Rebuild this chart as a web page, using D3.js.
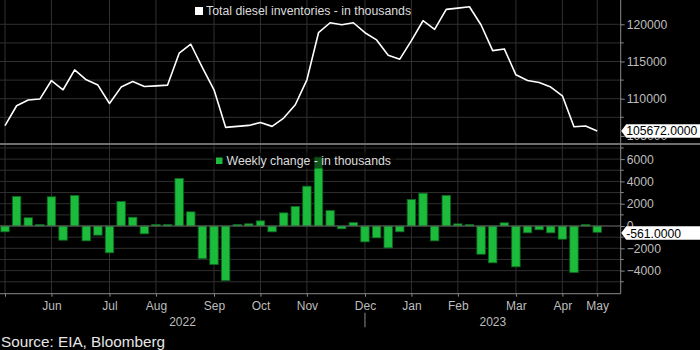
<!DOCTYPE html>
<html>
<head>
<meta charset="utf-8">
<script src="https://cdn.jsdelivr.net/npm/d3@7"></script>
<style>
  html, body { margin: 0; padding: 0; background: #000; }
  svg { display: block; }
  text { font-family: "Liberation Sans", Arial, sans-serif; }
</style>
</head>
<body>
<svg id="chart" width="700" height="350"></svg>
<script>
// ---- data (weekly, oldest first) ----
const inventory = [
  106370, 109050, 109820, 109950, 112440, 111200, 113880, 112540, 111830, 109360,
  111560, 112310, 111640, 111730, 111830, 116110, 117320, 114190, 111200, 106150,
  106280, 106410, 106810, 106280, 107400, 109190, 112540, 118870, 120210, 119950,
  120210, 118870, 117900, 115850, 115310, 117800, 120480, 119330, 122010, 122180,
  122360, 119910, 116460, 116690, 113210, 112440, 112170, 111560, 110390, 106240,
  106330, 105672
];
const weeklyChange = [
  -520, 2650, 740, 135, 2620, -1270, 2740, -1330, -820, -2400,
  2200, 790, -700, 135, 135, 4260, 1270, -2920, -3450, -4890,
  135, 200, 465, -520, 1180, 1750, 3570, 6180, 1390, -250,
  310, -1420, -1060, -1960, -520, 2380, 2940, -1330, 2740, 195,
  135, -2530, -3300, 290, -3660, -610, -340, -610, -1180, -4170,
  135, -561
];
const monthLabels    = ["", "Jun", "Jul", "Aug", "Sep", "Oct", "Nov", "Dec", "Jan", "Feb", "Mar", "Apr", "May"];
const monthTickWeeks = [0, 4, 9, 13, 18, 22, 26, 31, 35, 39, 44, 48, 51];
const yearLabels     = ["2022", "2023"];
const yearBreakWeek  = 31;
const invTicks       = [105000, 110000, 115000, 120000];
const invGrid        = [107500, 110000, 112500, 115000, 117500, 120000];
const chgTicks       = [-4000, -2000, 0, 2000, 4000, 6000];
const chgGrid        = [-5000, -4000, -3000, -2000, -1000, 0, 1000, 2000, 3000, 4000, 5000, 6000, 7000];
const invLegend      = "Total diesel inventories - in thousands";
const chgLegend      = "Weekly change - in thousands";
const sourceText     = "Source: EIA, Bloomberg";

// ---- layout ----
const svg = d3.select("#chart");
const plotRight = 620.7;
const axisY = 293.7;

const x = d3.scaleLinear().domain([0, inventory.length - 1]).range([5, 597.2]);
const yTop = d3.scaleLinear().domain([104046, 123266]).range([143, 0]);
const yBot = d3.scaleLinear().domain([-6070, 7265]).range([axisY, 145]);

const gridCol = "#303030";
const axisCol = "#8a8a8a";
const labelCol = "#bdbdbd";

svg.append("rect").attr("width", 700).attr("height", 350).attr("fill", "#000");

// grid
const grid = svg.append("g");
grid.selectAll(".vg").data(monthTickWeeks).join("line")
  .attr("x1", d => x(d)).attr("x2", d => x(d))
  .attr("y1", 0).attr("y2", axisY)
  .attr("stroke", gridCol).attr("stroke-width", 1);
grid.selectAll(".hgT").data(invGrid).join("line")
  .attr("x1", 0).attr("x2", plotRight)
  .attr("y1", d => yTop(d)).attr("y2", d => yTop(d))
  .attr("stroke", gridCol).attr("stroke-width", 1);
grid.selectAll(".hgB").data(chgGrid).join("line")
  .attr("x1", 0).attr("x2", plotRight)
  .attr("y1", d => yBot(d)).attr("y2", d => yBot(d))
  .attr("stroke", gridCol).attr("stroke-width", 1);

// panel separator
svg.append("line").attr("x1", 0).attr("x2", 700).attr("y1", 144).attr("y2", 144)
  .attr("stroke", "#6e6e6e").attr("stroke-width", 2);

// line
svg.append("path")
  .datum(inventory)
  .attr("fill", "none")
  .attr("stroke", "#fff")
  .attr("stroke-width", 1.6)
  .attr("stroke-linejoin", "round")
  .attr("d", d3.line().x((d, i) => x(i)).y(d => yTop(d)));

// bars
const bw = 8.4;
svg.append("g").selectAll("rect").data(weeklyChange).join("rect")
  .attr("x", (d, i) => x(i) - bw / 2)
  .attr("width", bw)
  .attr("y", d => yBot(Math.max(0, d)))
  .attr("height", d => Math.abs(yBot(d) - yBot(0)))
  .attr("fill", "#1dbb3c")
  .attr("stroke", "#0c6a1f")
  .attr("stroke-width", 0.8);

// zero line of bottom panel
svg.append("line").attr("x1", 0).attr("x2", plotRight)
  .attr("y1", yBot(0)).attr("y2", yBot(0))
  .attr("stroke", "#5a5a5a").attr("stroke-width", 1);

// top legend
svg.append("rect").attr("x", 195).attr("y", 7).attr("width", 8).attr("height", 8).attr("fill", "#fff");
svg.append("text").attr("x", 206).attr("y", 11.3).attr("font-size", 12.3)
  .attr("fill", "#dcdcdc").attr("dominant-baseline", "central").text(invLegend);
// bottom legend (semi-transparent backdrop)
svg.append("rect").attr("x", 212).attr("y", 152.5).attr("width", 184).attr("height", 16)
  .attr("fill", "#000").attr("opacity", 0.55);
svg.append("rect").attr("x", 216).attr("y", 157.5).attr("width", 6.5).attr("height", 6.5)
  .attr("fill", "#1dbb3c");
svg.append("text").attr("x", 226.5).attr("y", 160.8).attr("font-size", 12.3)
  .attr("fill", "#dcdcdc").attr("dominant-baseline", "central").text(chgLegend);

// right axes
function styleAxis(g) {
  g.select(".domain").remove();
  g.selectAll(".tick line").attr("stroke", axisCol);
  g.selectAll(".tick text").attr("fill", labelCol).attr("font-size", 12.2)
    .attr("font-family", "'Liberation Sans', Arial, sans-serif");
}
svg.append("g").attr("transform", `translate(${plotRight},0)`)
  .call(d3.axisRight(yTop).tickValues(invTicks).tickSize(4).tickPadding(2).tickFormat(d3.format("d")))
  .call(styleAxis);
svg.append("g").attr("transform", `translate(${plotRight},0)`)
  .call(d3.axisRight(yBot).tickValues(chgTicks).tickSize(4).tickPadding(2).tickFormat(d3.format("d")))
  .call(styleAxis);
// minor ticks
svg.append("g").selectAll("line").data(invGrid.filter(v => !invTicks.includes(v))).join("line")
  .attr("x1", plotRight).attr("x2", plotRight + 3).attr("y1", d => yTop(d)).attr("y2", d => yTop(d))
  .attr("stroke", axisCol);
svg.append("g").selectAll("line").data(chgGrid.filter(v => !chgTicks.includes(v))).join("line")
  .attr("x1", plotRight).attr("x2", plotRight + 3).attr("y1", d => yBot(d)).attr("y2", d => yBot(d))
  .attr("stroke", axisCol);

// axis lines
svg.append("line").attr("x1", plotRight).attr("x2", plotRight).attr("y1", 0).attr("y2", axisY)
  .attr("stroke", axisCol).attr("stroke-width", 1);
svg.append("line").attr("x1", 0).attr("x2", plotRight).attr("y1", axisY).attr("y2", axisY)
  .attr("stroke", axisCol).attr("stroke-width", 1);

// x axis
const xa = svg.append("g").attr("transform", `translate(0,${axisY})`)
  .call(d3.axisBottom(x).tickValues(monthTickWeeks).tickSize(3).tickPadding(5)
    .tickFormat((d, i) => monthLabels[i]));
xa.select(".domain").remove();
xa.selectAll(".tick line").attr("stroke", axisCol);
xa.selectAll(".tick text").attr("fill", labelCol).attr("font-size", 12)
  .attr("font-family", "'Liberation Sans', Arial, sans-serif");

// year labels
const xb = x(yearBreakWeek);
svg.append("line").attr("x1", xb).attr("x2", xb).attr("y1", 312.7).attr("y2", 327.3)
  .attr("stroke", axisCol);
svg.append("text").attr("x", xb / 2).attr("y", 321.7).attr("text-anchor", "middle")
  .attr("dominant-baseline", "central").attr("font-size", 12).attr("fill", labelCol).text(yearLabels[0]);
svg.append("text").attr("x", (xb + plotRight) / 2).attr("y", 321.7).attr("text-anchor", "middle")
  .attr("dominant-baseline", "central").attr("font-size", 12).attr("fill", labelCol).text(yearLabels[1]);

// last value callouts
function callout(cy, txt) {
  const x0 = plotRight + 0.5, h = 13.5;
  const p = d3.path();
  p.moveTo(x0, cy);
  p.lineTo(x0 + 5, cy - h / 2);
  p.lineTo(702, cy - h / 2);
  p.lineTo(702, cy + h / 2);
  p.lineTo(x0 + 5, cy + h / 2);
  p.closePath();
  svg.append("path").attr("d", p.toString()).attr("fill", "#fff");
  svg.append("text").attr("x", x0 + 5).attr("y", cy + 0.5).attr("dominant-baseline", "central")
    .attr("font-size", 12.2).attr("fill", "#000").text(txt);
}
callout(yTop(inventory[inventory.length - 1]), d3.format(".4f")(inventory[inventory.length - 1]));
callout(yBot(weeklyChange[weeklyChange.length - 1]) + 0.8, d3.format(".4f")(weeklyChange[weeklyChange.length - 1]).replace("−", "-"));

// source
svg.append("text").attr("x", 1).attr("y", 341).attr("dominant-baseline", "central")
  .attr("font-size", 15.3).attr("fill", "#e6e6e6").text(sourceText);
</script>
</body>
</html>
